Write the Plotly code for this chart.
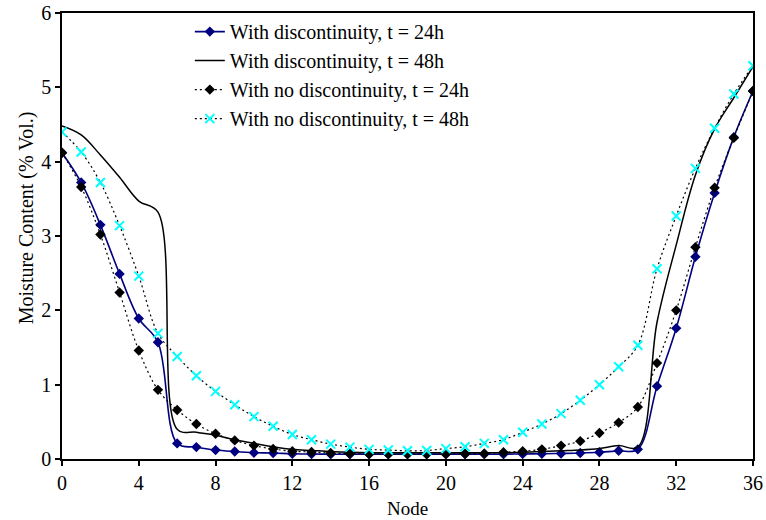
import plotly.graph_objects as go

nodes = list(range(37))

disc_24h = [4.12, 3.72, 3.15, 2.49, 1.89, 1.57, 0.21, 0.16, 0.12, 0.10, 0.085, 0.08,
            0.07, 0.067, 0.065, 0.065, 0.065, 0.065, 0.065, 0.065, 0.065, 0.065, 0.065,
            0.065, 0.068, 0.07, 0.075, 0.08, 0.09, 0.11, 0.13, 0.98, 1.76, 2.72, 3.58,
            4.33, 4.95]

disc_48h = [4.48, 4.36, 4.09, 3.79, 3.47, 3.32, 0.40, 0.36, 0.32, 0.26, 0.21, 0.165,
            0.13, 0.115, 0.10, 0.09, 0.085, 0.085, 0.085, 0.085, 0.085, 0.085, 0.085,
            0.085, 0.09, 0.10, 0.11, 0.12, 0.14, 0.18, 0.16, 1.84, 2.88, 3.82, 4.44,
            4.86, 5.28]

nodisc_24h = [4.12, 3.66, 3.02, 2.24, 1.46, 0.93, 0.66, 0.47, 0.34, 0.25, 0.18, 0.135,
              0.105, 0.095, 0.08, 0.072, 0.068, 0.065, 0.065, 0.065, 0.066, 0.07, 0.075,
              0.09, 0.105, 0.13, 0.18, 0.24, 0.35, 0.49, 0.70, 1.29, 2.00, 2.85, 3.65,
              4.32, 4.95]

nodisc_48h = [4.40, 4.13, 3.72, 3.14, 2.46, 1.69, 1.38, 1.12, 0.91, 0.73, 0.57, 0.44,
              0.33, 0.26, 0.20, 0.16, 0.13, 0.12, 0.11, 0.115, 0.14, 0.165, 0.21, 0.26,
              0.36, 0.47, 0.61, 0.79, 1.00, 1.24, 1.53, 2.56, 3.27, 3.91, 4.45, 4.91, 5.29]

names = ["With discontinuity, t = 24h", "With discontinuity, t = 48h",
         "With no discontinuity, t = 24h", "With no discontinuity, t = 48h"]

x_title = "Node"
y_title = "Moisture Content (% Vol.)"

x_ticks = list(range(0, 37, 4))
y_ticks = list(range(0, 7))

FONT = "Liberation Serif, Times New Roman, serif"

fig = go.Figure()
fig.add_trace(go.Scatter(
    x=nodes, y=disc_24h, name=names[0], mode="lines+markers",
    line=dict(color="#000080", width=1.6, shape="spline", smoothing=1),
    marker=dict(symbol="diamond", size=8, color="#000080")))
fig.add_trace(go.Scatter(
    x=nodes, y=disc_48h, name=names[1], mode="lines",
    line=dict(color="black", width=1.5, shape="spline", smoothing=1)))
fig.add_trace(go.Scatter(
    x=nodes, y=nodisc_24h, name=names[2], mode="lines+markers",
    line=dict(color="black", width=1.2, dash="2px,3px", shape="spline", smoothing=1),
    marker=dict(symbol="diamond", size=8, color="black")))
fig.add_trace(go.Scatter(
    x=nodes, y=nodisc_48h, name=names[3], mode="lines+markers",
    line=dict(color="black", width=1.2, dash="2px,3px", shape="spline", smoothing=1),
    marker=dict(symbol="x-thin", size=9, color="#00FFFF",
                line=dict(color="#00FFFF", width=2))))

fig.update_layout(
    width=766, height=520,
    margin=dict(l=62, r=13, t=13, b=61, autoexpand=False),
    paper_bgcolor="white", plot_bgcolor="white",
    font=dict(family=FONT, size=20, color="black"),
    showlegend=True,
    legend=dict(x=0.185, y=1.002, xanchor="left", yanchor="top",
                bgcolor="rgba(0,0,0,0)", borderwidth=0, tracegroupgap=0,
                font=dict(family=FONT, size=20)),
    annotations=[dict(text=y_title, textangle=-90, showarrow=False,
                      xref="paper", yref="paper", x=-0.052, y=0.54,
                      xanchor="center", yanchor="middle",
                      font=dict(family=FONT, size=20, color="black"))],
)
fig.update_xaxes(
    range=[0, 36], tickvals=x_ticks, ticktext=[str(v) for v in x_ticks],
    automargin=False,
    showgrid=False, zeroline=False, showline=True, linecolor="black", linewidth=1.5,
    mirror=True, ticks="outside", ticklen=5, tickwidth=1.5, tickcolor="black",
    title=dict(text=x_title, standoff=9, font=dict(family=FONT, size=19)),
    tickfont=dict(family=FONT, size=20))
fig.update_yaxes(
    range=[0, 6], tickvals=y_ticks, ticktext=[str(v) for v in y_ticks],
    automargin=False,
    showgrid=False, zeroline=False, showline=True, linecolor="black", linewidth=1.5,
    mirror=True, ticks="outside", ticklen=5, tickwidth=1.5, tickcolor="black",
    tickfont=dict(family=FONT, size=20))

fig.write_html("out.html")
